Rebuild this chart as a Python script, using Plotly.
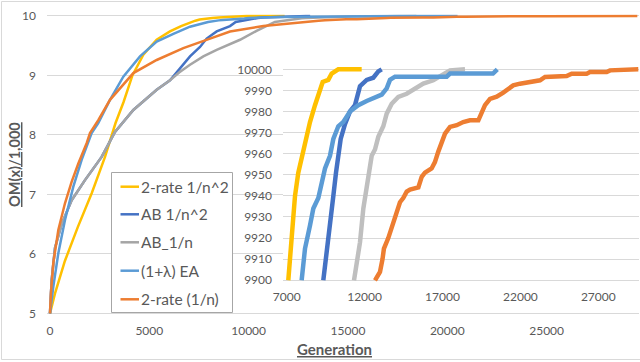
import plotly.graph_objects as go

# ---------------- data ----------------
series_names = ["2-rate 1/n^2", "AB 1/n^2", "AB_1/n", "(1+λ) EA", "2-rate (1/n)"]
main_colors = ["#FFC000", "#4472C4", "#A5A5A5", "#5B9BD5", "#ED7D31"]
inset_colors = ["#FFC000", "#4472C4", "#BFBFBF", "#5B9BD5", "#ED7D31"]

# main chart, early part (OM(x)/1,000)
yellow_x = [0, 250, 750, 1400, 2100, 2770, 3300, 3700, 4150, 4700, 5370, 6040, 6600]
yellow_y = [5, 5.33, 5.88, 6.45, 7.02, 7.63, 8.2, 8.55, 9.0, 9.35, 9.6, 9.74, 9.83]
dblue_x = [0, 84, 252, 587, 1090, 1762, 2601, 3273, 4196, 5372, 6042, 6546, 7049, 7552, 7887, 8391, 9063]
dblue_y = [5, 5.56, 6.1, 6.5, 6.9, 7.24, 7.63, 8.05, 8.42, 8.76, 8.92, 9.12, 9.32, 9.48, 9.62, 9.74, 9.83]
gray_x = [0, 84, 252, 587, 1090, 1762, 2601, 3273, 4196, 5372, 6042, 6500, 7049, 7720, 8391, 9566, 10400]
gray_y = [5, 5.56, 6.1, 6.5, 6.9, 7.24, 7.63, 8.05, 8.42, 8.76, 8.92, 9.05, 9.18, 9.32, 9.43, 9.6, 9.75]
lblue_x = [0, 168, 420, 755, 1175, 1594, 2098, 2430, 3021, 3692, 4532, 5372, 6210, 7049]
lblue_y = [5, 5.45, 6.01, 6.57, 7.13, 7.58, 8.03, 8.2, 8.59, 8.98, 9.32, 9.57, 9.7, 9.82]
orange_x = [0, 50, 168, 420, 755, 1090, 1427, 1846, 2014, 2432, 3021, 3692, 4196, 5372, 6713, 8056, 9063, 10741, 12420]
orange_y = [5, 5.35, 5.85, 6.4, 6.85, 7.21, 7.52, 7.86, 8.03, 8.25, 8.59, 8.85, 9.04, 9.26, 9.46, 9.62, 9.74, 9.83, 9.89]

# tail (OM(x) >= 9900), shown in the inset
yellow_tx = [7103, 7320, 7533, 7745, 7960, 8175, 8495, 8816, 9092, 9310, 9670, 9888, 10312, 11813]
yellow_ty = [9900, 9921, 9940, 9951, 9958, 9966, 9975, 9983, 9989, 9994, 9995, 9998, 10000, 10000]
dblue_tx = [9350, 9567, 9779, 9993, 10164, 10312, 10465, 10740, 11063, 11383, 11530, 11705, 12134, 12559, 12880, 13097]
dblue_ty = [9900, 9915, 9927.6, 9940, 9951, 9961, 9967, 9974, 9980, 9983, 9988, 9992, 9995, 9996, 9999, 10000]
gray_tx = [11320, 11490, 11705, 11918, 12090, 12240, 12455, 12667, 12880, 13200, 13418, 13739, 14163, 14702,
           15235, 15767, 16409, 17051, 17481, 18443]
gray_ty = [9900, 9907, 9918, 9934, 9942, 9952, 9959, 9962, 9968, 9973, 9979, 9983.7, 9986.9, 9988.4,
           9990.8, 9993.2, 9994.8, 9997.9, 9999.5, 10000]
lblue_tx = [7960, 8175, 8495, 8709, 9030, 9245, 9459, 9779, 9993, 10312, 10633, 11063, 11595, 12134, 12776,
            13100, 13418, 13630, 13950, 17269, 17481, 20240, 20517]
lblue_ty = [9900, 9915, 9926, 9934, 9939, 9947, 9953, 9959, 9967, 9973, 9975, 9980, 9983, 9985, 9987,
            9988, 9991, 9995, 9996.5, 9996.5, 9998, 9998, 10000]
orange_tx = [12667, 12988, 13149, 13240, 13520, 13842, 14060, 14270, 14480, 14702, 14913, 15450, 15665, 15874,
             16300, 16513, 16730, 16945, 17160, 17481, 17910, 18330, 18764, 19300, 19515, 19727, 20048, 20478,
             20900, 21222, 21540, 21975, 23260, 23580, 24970, 25290, 26253, 26466, 27537, 27750, 29566]
orange_ty = [9900, 9904, 9910, 9915, 9920, 9928, 9932, 9937, 9939, 9942, 9943, 9944, 9949, 9951,
             9953, 9956, 9961, 9966, 9969.5, 9972.7, 9973.5, 9975, 9975.8, 9975.8, 9980, 9983, 9986, 9987,
             9989, 9991, 9992.4, 9993.2, 9994.8, 9996.4, 9996.8, 9997.9, 9997.9, 9998.7, 9998.7, 9999.5, 10000]

main_y_ticks = [5, 6, 7, 8, 9, 10]
main_x_ticks = [0, 5000, 10000, 15000, 20000, 25000]
inset_y_ticks = [9900, 9910, 9920, 9930, 9940, 9950, 9960, 9970, 9980, 9990, 10000]
inset_x_ticks = [7000, 12000, 17000, 22000, 27000]

early = [(yellow_x, yellow_y), (dblue_x, dblue_y), (gray_x, gray_y), (lblue_x, lblue_y), (orange_x, orange_y)]
tails = [(yellow_tx, yellow_ty), (dblue_tx, dblue_ty), (gray_tx, gray_ty), (lblue_tx, lblue_ty), (orange_tx, orange_ty)]

# ---------------- layout helpers ----------------
W, H = 640, 362
def fx(px):
    return px / W
def fy(py):
    return 1 - py / H

FONT = "Lato"
TXT = "#595959"
GRID = "#D9D9D9"

fig = go.Figure()

for i, name in enumerate(series_names):
    ex, ey = early[i]
    tx, ty = tails[i]
    fig.add_trace(go.Scatter(
        x=list(ex) + list(tx), y=list(ey) + [v / 1000 for v in ty],
        mode="lines", name=name, showlegend=False,
        line=dict(color=main_colors[i], width=2.5),
        xaxis="x", yaxis="y", hoverinfo="skip"))

for i, name in enumerate(series_names):
    tx, ty = tails[i]
    fig.add_trace(go.Scatter(
        x=tx, y=ty, mode="lines", name=name, showlegend=False,
        line=dict(color=inset_colors[i], width=4.5),
        xaxis="x3", yaxis="y3", hoverinfo="skip"))

tickfont = dict(family=FONT, size=12, color=TXT)

fig.update_layout(
    width=W, height=H,
    margin=dict(l=0, r=0, t=0, b=0, autoexpand=False),
    paper_bgcolor="white", plot_bgcolor="white",
    showlegend=False,
    xaxis=dict(domain=[fx(47), fx(639)], range=[-150, 29650], anchor="y", automargin=False,
               tickmode="array", tickvals=main_x_ticks, ticktext=[str(v) for v in main_x_ticks],
               showgrid=False, zeroline=False, showline=False, ticks="",
               tickfont=tickfont, ticklabelstandoff=7),
    yaxis=dict(domain=[fy(315.1), fy(14.2)], range=[4.97, 10.03], anchor="x", automargin=False,
               tickmode="array", tickvals=main_y_ticks, ticktext=[str(v) for v in main_y_ticks],
               showgrid=True, gridcolor=GRID, gridwidth=1, zeroline=False, showline=False, ticks="",
               tickfont=tickfont, ticklabelstandoff=10),
    # cover panel behind the inset (white box with border)
    xaxis2=dict(domain=[fx(237), 1.0], range=[0, 1], anchor="y2", showgrid=False, zeroline=False,
                showticklabels=False, ticks="", showline=True, mirror=True, linecolor=GRID, linewidth=1,
                fixedrange=True, automargin=False),
    yaxis2=dict(domain=[fy(313), fy(60)], range=[0, 1], anchor="x2", showgrid=False, zeroline=False,
                showticklabels=False, ticks="", showline=True, mirror=True, linecolor=GRID, linewidth=1,
                fixedrange=True, automargin=False),
    # inset
    xaxis3=dict(domain=[fx(283), fx(639)], range=[6763, 29611], anchor="y3", automargin=False,
                tickmode="array", tickvals=inset_x_ticks, ticktext=[str(v) for v in inset_x_ticks],
                showgrid=False, zeroline=False, showline=False, ticks="",
                tickfont=tickfont, ticklabelstandoff=3),
    yaxis3=dict(domain=[fy(284.5), fy(65.1)], range=[9898, 10002], anchor="x3", automargin=False,
                tickmode="array", tickvals=inset_y_ticks, ticktext=[str(v) for v in inset_y_ticks],
                showgrid=True, gridcolor=GRID, gridwidth=1, zeroline=False, showline=False, ticks="",
                tickfont=tickfont, ticklabelstandoff=10),
)

shapes = []
# chart area border
shapes.append(dict(type="rect", xref="paper", yref="paper", x0=fx(1.5), x1=fx(660), y0=fy(359.5), y1=fy(1.5),
                   line=dict(color=GRID, width=1), fillcolor="rgba(0,0,0,0)", layer="above"))
# legend box
shapes.append(dict(type="rect", xref="paper", yref="paper", x0=fx(111.5), x1=fx(232.5), y0=fy(312.5), y1=fy(172.5),
                   line=dict(color="#A6A6A6", width=1), fillcolor="white", layer="above"))
legend_rows = [186.7, 214.3, 242.3, 270.7, 299.3]
annotations = []
for i, name in enumerate(series_names):
    py = legend_rows[i]
    shapes.append(dict(type="line", xref="paper", yref="paper", x0=fx(120.5), x1=fx(139), y0=fy(py), y1=fy(py),
                       line=dict(color=main_colors[i], width=2.5), layer="above"))
    annotations.append(dict(x=fx(139), y=fy(py), xref="paper", yref="paper", text=name, showarrow=False,
                            xanchor="left", yanchor="middle", font=dict(family=FONT, size=15.5, color=TXT)))

annotations.append(dict(x=fx(14), y=fy(165), xref="paper", yref="paper", text="<b><u>OM(x)/1,000</u></b>",
                        textangle=-90, showarrow=False, xanchor="center", yanchor="middle",
                        font=dict(family=FONT, size=14.5, color=TXT)))
annotations.append(dict(x=fx(334), y=fy(349), xref="paper", yref="paper", text="<b><u>Generation</u></b>",
                        showarrow=False, xanchor="center", yanchor="middle",
                        font=dict(family=FONT, size=15, color=TXT)))

fig.update_layout(shapes=shapes, annotations=annotations)

fig.write_html("out.html")
